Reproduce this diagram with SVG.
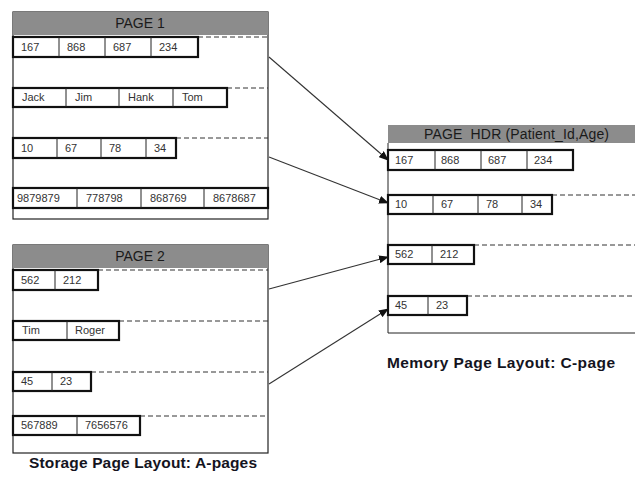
<svg xmlns="http://www.w3.org/2000/svg" width="635" height="478" viewBox="0 0 635 478">
  <defs>
    <marker id="arrowhead" markerUnits="userSpaceOnUse" markerWidth="10" markerHeight="8" refX="9" refY="4" orient="auto">
      <path d="M0,0 L10,4 L0,8 Z" fill="#111"/>
    </marker>
    <style>
      .page { fill: #fff; stroke: #222; stroke-width: 1.2; }
      .hdr { fill: #8c8c8c; }
      .hdr-text { font-family: "Liberation Sans", Arial, sans-serif; font-size: 14px; fill: #1a1a1a; }
      .row { fill: #fff; stroke: #111; stroke-width: 2.2; }
      .div { stroke: #222; stroke-width: 1; }
      .dash { stroke: #333; stroke-width: 1; stroke-dasharray: 5 3; }
      .cell { font-family: "Liberation Sans", Arial, sans-serif; font-size: 11px; fill: #333; }
      .edge { stroke: #222; stroke-width: 1; fill: none; }
      .link { stroke: #333; stroke-width: 1.1; fill: none; marker-end: url(#arrowhead); }
      .caption { font-family: "Liberation Sans", Arial, sans-serif; font-size: 15.5px; font-weight: bold; fill: #14141e; }
    </style>
  </defs>
  <rect width="635" height="478" fill="#fff"/>

  <!-- Storage page 1 -->
  <g id="page1">
    <rect class="page" x="13" y="12" width="255" height="207"/>
    <rect class="hdr" x="13" y="12" width="255" height="23"/>
    <text class="hdr-text" x="140" y="28" text-anchor="middle">PAGE 1</text>
    <g id="p1-row1">
      <line class="dash" x1="198" y1="37" x2="268" y2="37"/>
      <rect class="row" x="13" y="37" width="185" height="20"/>
      <line class="div" x1="59" y1="37" x2="59" y2="57"/>
      <line class="div" x1="105" y1="37" x2="105" y2="57"/>
      <line class="div" x1="151" y1="37" x2="151" y2="57"/>
      <text class="cell" x="21" y="51">167</text>
      <text class="cell" x="67" y="51">868</text>
      <text class="cell" x="113" y="51">687</text>
      <text class="cell" x="159" y="51">234</text>
    </g>
    <g id="p1-row2">
      <line class="dash" x1="227" y1="88" x2="268" y2="88"/>
      <rect class="row" x="13" y="88" width="214" height="19"/>
      <line class="div" x1="66" y1="88" x2="66" y2="107"/>
      <line class="div" x1="119" y1="88" x2="119" y2="107"/>
      <line class="div" x1="173" y1="88" x2="173" y2="107"/>
      <text class="cell" x="22" y="101">Jack</text>
      <text class="cell" x="75" y="101">Jim</text>
      <text class="cell" x="128" y="101">Hank</text>
      <text class="cell" x="182" y="101">Tom</text>
    </g>
    <g id="p1-row3">
      <line class="dash" x1="176" y1="138" x2="268" y2="138"/>
      <rect class="row" x="13" y="138" width="163" height="20"/>
      <line class="div" x1="57" y1="138" x2="57" y2="158"/>
      <line class="div" x1="101" y1="138" x2="101" y2="158"/>
      <line class="div" x1="146" y1="138" x2="146" y2="158"/>
      <text class="cell" x="21" y="152">10</text>
      <text class="cell" x="65" y="152">67</text>
      <text class="cell" x="109" y="152">78</text>
      <text class="cell" x="154" y="152">34</text>
    </g>
    <g id="p1-row4">
      <rect class="row" x="13" y="188" width="255" height="20"/>
      <line class="div" x1="77" y1="188" x2="77" y2="208"/>
      <line class="div" x1="141" y1="188" x2="141" y2="208"/>
      <line class="div" x1="204" y1="188" x2="204" y2="208"/>
      <text class="cell" x="17" y="202">9879879</text>
      <text class="cell" x="86" y="202">778798</text>
      <text class="cell" x="150" y="202">868769</text>
      <text class="cell" x="213" y="202">8678687</text>
    </g>
  </g>

  <!-- Storage page 2 -->
  <g id="page2">
    <rect class="page" x="13" y="245" width="255" height="208"/>
    <rect class="hdr" x="13" y="245" width="255" height="23"/>
    <text class="hdr-text" x="140" y="261" text-anchor="middle">PAGE 2</text>
    <g id="p2-row1">
      <line class="dash" x1="98" y1="270" x2="268" y2="270"/>
      <rect class="row" x="13" y="270" width="85" height="20"/>
      <line class="div" x1="55" y1="270" x2="55" y2="290"/>
      <text class="cell" x="21" y="284">562</text>
      <text class="cell" x="63" y="284">212</text>
    </g>
    <g id="p2-row2">
      <line class="dash" x1="119" y1="321" x2="268" y2="321"/>
      <rect class="row" x="13" y="321" width="106" height="19"/>
      <line class="div" x1="67" y1="321" x2="67" y2="340"/>
      <text class="cell" x="22" y="334">Tim</text>
      <text class="cell" x="75" y="334">Roger</text>
    </g>
    <g id="p2-row3">
      <line class="dash" x1="91" y1="372" x2="268" y2="372"/>
      <rect class="row" x="13" y="372" width="78" height="19"/>
      <line class="div" x1="52" y1="372" x2="52" y2="391"/>
      <text class="cell" x="21" y="385">45</text>
      <text class="cell" x="60" y="385">23</text>
    </g>
    <g id="p2-row4">
      <line class="dash" x1="140" y1="416" x2="268" y2="416"/>
      <rect class="row" x="13" y="416" width="127" height="19"/>
      <line class="div" x1="77" y1="416" x2="77" y2="435"/>
      <text class="cell" x="21" y="429">567889</text>
      <text class="cell" x="85" y="429">7656576</text>
    </g>
  </g>

  <!-- Memory page -->
  <g id="cpage">
    <rect class="hdr" x="388" y="125" width="247" height="18"/>
    <text class="hdr-text" x="424" y="139" textLength="185" xml:space="preserve">PAGE  HDR (Patient_Id,Age)</text>
    <path class="edge" d="M388,143 V333 H635"/>
    <g id="c-row1">
      <rect class="row" x="388" y="150" width="185" height="20"/>
      <line class="div" x1="435" y1="150" x2="435" y2="170"/>
      <line class="div" x1="481" y1="150" x2="481" y2="170"/>
      <line class="div" x1="527" y1="150" x2="527" y2="170"/>
      <text class="cell" x="395" y="164">167</text>
      <text class="cell" x="441" y="164">868</text>
      <text class="cell" x="488" y="164">687</text>
      <text class="cell" x="534" y="164">234</text>
    </g>
    <g id="c-row2">
      <line class="dash" x1="552" y1="195" x2="635" y2="195"/>
      <rect class="row" x="388" y="195" width="164" height="19"/>
      <line class="div" x1="433" y1="195" x2="433" y2="214"/>
      <line class="div" x1="478" y1="195" x2="478" y2="214"/>
      <line class="div" x1="522" y1="195" x2="522" y2="214"/>
      <text class="cell" x="395" y="208">10</text>
      <text class="cell" x="441" y="208">67</text>
      <text class="cell" x="486" y="208">78</text>
      <text class="cell" x="530" y="208">34</text>
    </g>
    <g id="c-row3">
      <line class="dash" x1="474" y1="245" x2="635" y2="245"/>
      <rect class="row" x="388" y="245" width="86" height="19"/>
      <line class="div" x1="432" y1="245" x2="432" y2="264"/>
      <text class="cell" x="395" y="258">562</text>
      <text class="cell" x="440" y="258">212</text>
    </g>
    <g id="c-row4">
      <line class="dash" x1="467" y1="296" x2="635" y2="296"/>
      <rect class="row" x="388" y="296" width="79" height="19"/>
      <line class="div" x1="428" y1="296" x2="428" y2="315"/>
      <text class="cell" x="395" y="309">45</text>
      <text class="cell" x="436" y="309">23</text>
    </g>
  </g>

  <!-- Row copy arrows -->
  <g id="connectors">
    <line class="link" x1="269" y1="57" x2="388" y2="160"/>
    <line class="link" x1="269" y1="157" x2="388" y2="203"/>
    <line class="link" x1="269" y1="289" x2="388" y2="257"/>
    <line class="link" x1="269" y1="384" x2="388" y2="309"/>
  </g>

  <text class="caption" x="387" y="368" textLength="228">Memory Page Layout: C-page</text>
  <text class="caption" x="29" y="468" textLength="228">Storage Page Layout: A-pages</text>
</svg>
